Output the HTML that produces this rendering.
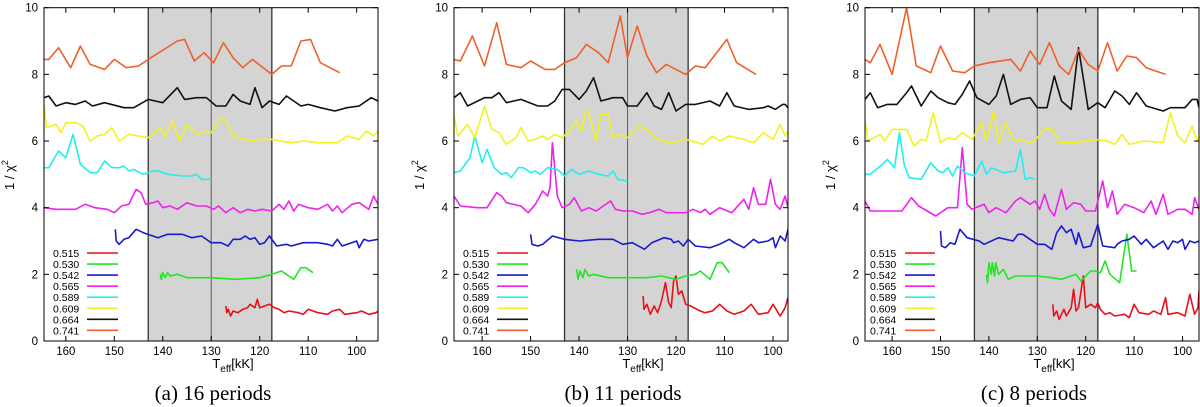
<!DOCTYPE html>
<html><head><meta charset="utf-8"><style>
body{margin:0;background:#fff;}
svg{display:block;font-family:"Liberation Sans",sans-serif;}
</style></head><body>
<svg id="chart" width="1200" height="407" viewBox="0 0 1200 407"></svg>
<script>
const masses = ["0.515","0.530","0.542","0.565","0.589","0.609","0.664","0.741"];
const colors = ["#e8101a","#22e622","#1a1acc","#ee22ee","#22eeee","#f2f222","#111111","#f0602a"];
const xTicks = [160,150,140,130,120,110,100];
const yTicks = [0,2,4,6,8,10];
const shadeRange = [143,117.5];
const midLine = 130;
const captions = ["(a)  16 periods","(b)  11 periods","(c)  8 periods"];

const a515=[[127,1.05],[126.8,0.85],[126.5,0.95],[126,0.75],[125.5,0.9],[124.5,0.85],[123.5,0.95],[122.5,1.0],[122,1.1],[121,1.0],[120.5,1.25],[120,1.0],[119,1.05],[118,1.1],[117,1.0],[116,0.95],[115,0.85],[114,0.9],[112,0.85],[111,0.8],[110,0.95],[108,0.85],[106,0.8],[105,0.9],[103.5,0.95],[102.5,0.8],[100,0.85],[99,0.9],[97.5,0.8],[96,0.85],[95.6,0.9]];
const a530=[[140.5,2.0],[140.3,1.85],[140,2.05],[139.5,1.9],[139,2.05],[138.5,1.95],[137,2.0],[135,1.9],[130,1.9],[125,1.85],[120,1.9],[117.5,2.0],[115.5,2.1],[114,1.95],[113,1.85],[111.5,2.2],[110.5,2.2],[109,2.05]];
const a542=[[149.8,3.35],[149.6,3.0],[149,2.9],[148,3.05],[147,3.1],[145.5,3.35],[144,3.25],[141,3.1],[139,3.2],[136,3.2],[134,3.1],[132,3.15],[130,2.95],[128,2.95],[126.5,2.85],[125.5,3.05],[124,3.05],[123,3.15],[122,3.05],[121,3.1],[120,2.9],[119,2.95],[118,3.15],[116.5,2.85],[114.5,2.9],[113.5,2.85],[111,2.95],[108,2.95],[106,2.9],[105,2.85],[104,3.05],[103,2.85],[101,2.95],[100,3.0],[99.5,2.8],[98.5,3.05],[97.5,3.0],[95.6,3.05]];
const a565=[[164.5,4.0],[162,3.95],[158,3.95],[156,4.1],[154,4.0],[151.5,3.95],[150,3.85],[148.5,4.05],[147,4.1],[145.5,4.55],[144.5,4.45],[143.5,4.1],[142,4.15],[141,4.2],[140,4.0],[138.5,4.05],[137,3.95],[135,4.15],[133,4.05],[131,4.05],[129.5,3.95],[128.5,4.05],[127,3.85],[125.5,4.0],[124,3.85],[122.5,3.95],[121,3.9],[119.5,3.95],[117.5,3.9],[116,4.1],[115,3.95],[114,4.2],[113,3.9],[112,4.1],[110,4.0],[108,3.95],[106,4.1],[105,3.9],[104,4.05],[103,3.85],[101,4.1],[99.5,4.15],[97.5,3.95],[96.5,4.35],[95.6,4.1]];
const a589=[[164.5,5.2],[163.5,5.2],[161.5,5.7],[160,5.5],[158.5,6.2],[157,5.3],[155,5.05],[153.5,5.05],[152,5.4],[150.5,5.2],[149,5.2],[148,5.25],[147,5.1],[146,5.15],[144,5.0],[142,5.1],[141,5.1],[139,5.0],[136,4.95],[134,4.95],[133,5.0],[132,4.85],[130,4.85]];
const a609=[[164.5,7.1],[164,6.4],[162,6.5],[161,6.25],[160,6.55],[158,6.55],[156.5,6.45],[155,6.0],[153.5,6.15],[152,6.2],[150.5,6.4],[149,6.0],[147,6.2],[145,6.15],[143,6.1],[140.5,6.4],[139.5,6.15],[138,6.6],[136.5,6.0],[135,6.5],[133,6.2],[131,6.3],[130,6.25],[128,6.7],[127,6.6],[125.5,6.15],[122,6.0],[120,6.05],[117.5,6.05],[113.5,5.95],[111,6.0],[108,5.95],[104,5.95],[102,6.15],[99.5,6.05],[98,6.3],[96.5,6.15],[95.6,6.3]];
const a664=[[164.5,7.3],[163.5,7.35],[162,7.05],[160,7.15],[158,7.1],[156,7.2],[154.5,7.05],[152,7.15],[148,7.0],[146,7.0],[143,7.25],[140,7.15],[137,7.6],[135.5,7.25],[133,7.3],[131,7.3],[129,7.05],[127,7.05],[125.5,7.4],[124,7.2],[122,7.1],[121,7.6],[119.5,7.0],[118,7.2],[117,7.15],[116,7.1],[114.5,7.35],[113,7.2],[111.5,7.05],[110,7.1],[107.5,7.0],[104.5,6.9],[102,7.0],[99.5,7.05],[97,7.3],[95.6,7.2]];
const a741=[[164.5,8.45],[163.5,8.45],[161.5,8.8],[159,8.2],[157,8.85],[155,8.3],[152,8.15],[150,8.45],[147.5,8.2],[145,8.25],[143,8.45],[137,9.0],[135.5,9.05],[133.5,8.4],[131.5,8.65],[129.5,8.35],[127.5,8.95],[125.5,8.5],[123.5,8.2],[121.5,8.45],[117.5,8.0],[115.5,8.25],[113.5,8.25],[111.5,9.0],[109.5,9.05],[107.5,8.35],[103.5,8.05]];

const b515=[[126.8,1.35],[126.6,0.95],[126,1.1],[125.3,0.8],[124.5,1.05],[123.8,0.85],[123,1.2],[122.2,1.75],[121.5,1.15],[121,1.0],[120.5,1.8],[120,1.95],[119.5,1.4],[118.8,1.5],[118,1.1],[117,1.05],[115,0.9],[114,0.85],[112.5,0.9],[111,1.1],[109.5,0.9],[108,0.8],[106,0.9],[104.5,1.1],[103,0.8],[101,0.85],[100,1.1],[98.5,0.75],[97.5,1.0],[96.9,1.3]];
const b530=[[140.5,2.15],[140.2,1.85],[139.8,2.1],[139.2,1.9],[138.8,2.15],[138,1.95],[137,2.0],[134,1.9],[128,1.9],[126,1.9],[123,1.95],[120,1.85],[118,1.95],[116,2.0],[115,2.1],[113,1.85],[111.5,2.35],[110.5,2.35],[109,2.05]];
const b542=[[150,3.2],[149.7,2.9],[148.5,2.85],[147.5,2.9],[145.5,3.15],[143,3.05],[140,3.0],[136,3.05],[133,3.05],[131,2.9],[129,2.95],[126.5,2.75],[125,2.95],[122.5,3.1],[121,3.05],[120.5,2.95],[119.5,3.0],[118.5,2.85],[117.5,3.05],[116,2.85],[113,2.8],[111,2.9],[109,3.05],[108,2.95],[106,2.8],[104,3.05],[103,2.95],[101,3.0],[100,3.1],[99.5,2.8],[98.5,3.15],[97.5,3.0],[96.9,3.35]];
const b565=[[165.8,4.35],[164.5,4.05],[161,4.0],[159,4.0],[157,4.45],[156,4.35],[155,4.15],[152,4.05],[150.5,3.85],[149,4.1],[147.5,4.5],[146.5,4.35],[146,4.6],[145.5,5.95],[144.5,4.35],[143.5,4.0],[142,4.1],[141,4.3],[139.5,3.9],[138,4.0],[136.5,3.9],[133.5,4.2],[132.5,3.95],[131,3.9],[129,3.9],[127,3.8],[125.5,3.85],[123.5,3.95],[122,3.85],[118,3.85],[116.5,3.95],[115,3.85],[114,3.95],[113,3.8],[111,4.0],[108.5,3.85],[106,4.25],[105,3.95],[104,4.6],[103,4.1],[101.5,4.1],[100.5,4.85],[99.5,4.1],[98.5,3.95],[97.5,4.35],[96.9,4.0]];
const b589=[[165.8,5.05],[164.5,5.1],[162.5,5.5],[161.5,6.15],[160,5.35],[159,5.75],[157.5,5.2],[156,5.0],[155,5.05],[154,4.9],[152.5,5.2],[151.5,5.2],[150,5.05],[149,5.1],[148,5.0],[146.5,5.2],[144.5,5.15],[143,4.95],[141.5,5.15],[140,5.0],[138,5.1],[136,5.0],[134,4.95],[133,5.1],[132,4.85],[130,4.8]];
const b609=[[165.8,6.75],[165,6.15],[163,6.5],[161.5,6.1],[159.5,7.05],[158,6.35],[156.5,6.25],[155,5.9],[153,6.1],[152,6.4],[150.5,6.0],[149,6.05],[147.5,6.15],[146.5,6.05],[145,6.2],[143.5,6.1],[142,6.3],[140.5,6.6],[139.5,6.3],[138.5,6.95],[137.5,6.6],[136.5,6.0],[135.5,6.8],[134,6.8],[133,6.1],[131.5,6.2],[130,6.1],[127.5,6.45],[125.5,6.3],[124,6.05],[121,5.95],[118,6.05],[115.5,5.95],[114.5,5.9],[112.5,6.15],[111,6.0],[109,6.15],[106,6.05],[104,5.95],[102,6.25],[100,6.05],[98.5,6.5],[97.5,6.15],[96.9,6.3]];
const b664=[[165.8,7.3],[164.5,7.45],[163,7.05],[159.5,7.3],[158,7.3],[156.5,7.45],[155,7.15],[152,7.25],[148.5,7.05],[146.5,7.05],[145,7.2],[143.5,7.55],[142,7.55],[140,7.25],[138.5,7.5],[137,7.9],[135.5,7.2],[133,7.3],[131,7.3],[130,7.05],[128,7.05],[126,7.45],[124.5,7.05],[123,6.95],[121.5,7.45],[120,6.9],[118,7.1],[116,7.1],[113,7.2],[111,7.05],[109.5,7.45],[108,7.05],[105,6.95],[102,7.0],[101,7.05],[99.5,6.95],[98,7.1],[97.5,7.1],[96.9,7.0]];
const b741=[[165.8,8.45],[164.5,8.4],[162,9.15],[159.5,8.25],[157,9.55],[155,8.3],[152,8.2],[150,8.4],[147,8.15],[145,8.15],[143,8.35],[140.5,8.5],[138.5,8.9],[136,8.65],[134,8.35],[131.5,9.75],[130,8.5],[128,9.45],[126,8.55],[124,8.05],[122,8.3],[118,8.0],[116,8.25],[114,8.2],[109.5,9.05],[107.5,8.35],[103.5,8.0]];

const c515=[[126.8,1.1],[126.6,0.75],[126,0.9],[125.5,0.65],[124.5,0.95],[124,0.75],[123,1.0],[122.5,1.55],[122,0.9],[121.5,1.0],[120.5,1.95],[120,1.0],[119,1.1],[118,1.0],[117.5,1.15],[117,0.95],[116,0.8],[115,0.85],[114,0.75],[112,0.8],[111,0.7],[110,1.1],[109,0.85],[107,0.8],[106,0.9],[104.5,0.8],[103.5,1.3],[103,0.8],[101,0.85],[99.5,0.75],[98.5,1.4],[97.5,0.8],[96.8,1.0],[96.6,1.5]];
const c530=[[140.5,2.0],[140.3,1.75],[140,2.35],[139.5,2.0],[139.3,2.35],[138.8,1.95],[138.6,2.35],[138,2.0],[137,2.15],[136,1.85],[134.5,1.95],[130,1.95],[127,1.9],[125,1.85],[122,2.0],[121,1.8],[119,2.1],[118,2.1],[117,2.05],[116,2.4],[115,2.0],[113,1.75],[111.5,3.2],[110.5,2.1],[109.5,2.1]];
const c542=[[150,3.3],[149.8,2.85],[149,2.8],[148,2.95],[147,2.9],[146,3.35],[144.5,3.1],[142,3.0],[141,2.9],[138,3.1],[135,3.0],[134,3.2],[133,3.2],[132,3.1],[130,2.9],[128.5,2.9],[127,2.75],[126,3.25],[125,3.45],[124,3.25],[123,3.35],[122,2.9],[121.5,3.25],[120.5,2.8],[119,2.85],[117.5,3.5],[116.5,2.85],[114,2.8],[113.5,2.9],[112.5,3.0],[111,3.05],[110,3.15],[108.5,2.9],[107.5,3.05],[106,2.8],[104,3.0],[103,2.75],[102,3.0],[101,2.95],[100,3.05],[99.5,2.75],[98.5,3.0],[97.5,2.95],[96.6,3.0]];
const c565=[[165.6,4.2],[164.5,3.9],[160,3.9],[158,3.9],[156,4.3],[154.5,4.05],[151,3.75],[148.5,4.0],[146.5,4.0],[145.5,5.8],[144.5,4.1],[143.5,3.95],[141,4.1],[140,3.85],[138.5,4.0],[136.5,3.85],[134.5,4.2],[133.5,4.3],[131.5,4.1],[130.5,4.2],[129.5,3.95],[128.5,4.4],[127.5,3.95],[126.5,3.75],[125,4.55],[124,3.95],[122.5,4.15],[121,4.1],[120,3.9],[118,3.9],[116.5,4.8],[115.5,4.0],[114.5,4.5],[113.5,3.8],[112,4.1],[110,4.0],[108,3.85],[106.5,4.2],[105.5,3.8],[104,4.4],[103,3.8],[101,3.95],[99.5,3.95],[98,3.8],[97.5,4.3],[96.6,3.95]];
const c589=[[165.6,5.0],[164.5,5.0],[162,5.3],[161,5.45],[159.5,5.2],[158.5,6.25],[157.5,5.3],[156.5,4.9],[154,4.85],[152,5.35],[150.5,5.1],[149.5,5.05],[148.5,5.2],[147.5,4.95],[146.5,5.25],[145,5.05],[143,4.95],[141.5,5.4],[140.5,5.0],[139.5,5.2],[137,5.05],[134.5,5.1],[133.5,5.75],[132.5,4.85],[131.5,4.9],[130.5,4.85]];
const c609=[[165.6,6.65],[165,6.0],[162.5,6.2],[161.5,6.0],[160,6.35],[157,6.35],[155.5,5.85],[154,6.05],[153,6.0],[151.5,6.85],[150,5.95],[148.5,6.1],[147,6.05],[145.5,6.25],[143.5,6.05],[141.5,6.55],[140.5,6.0],[139,6.9],[138,5.95],[136.5,6.55],[135,6.05],[131,5.95],[128.5,6.35],[127,6.4],[125.5,5.95],[121.5,5.95],[120,6.0],[118,6.05],[115.5,6.0],[114,5.9],[112.5,6.2],[111,5.9],[108,6.0],[104,5.95],[102.5,6.85],[101,6.15],[99.5,5.95],[98,6.45],[97,6.0],[96.6,6.15]];
const c664=[[165.6,7.25],[164.5,7.45],[163,7.0],[161,7.1],[159,7.1],[157,7.45],[156,7.65],[154,7.05],[152,7.5],[150.5,7.3],[148.5,7.15],[147,7.1],[145.5,7.4],[144,7.8],[142.5,7.3],[140,7.1],[138.5,7.35],[137,8.0],[135.5,7.1],[133.5,7.25],[131.5,7.3],[130,7.0],[128,7.0],[126.5,7.95],[125,7.2],[123,6.95],[121.5,8.8],[119.5,6.95],[117.5,7.15],[116,7.0],[114,7.5],[112.5,7.35],[111,7.1],[109.5,7.45],[107.5,7.05],[104,6.9],[102.5,7.0],[99.5,7.0],[98,7.25],[97,7.25],[96.6,7.0]];
const c741=[[165.6,8.45],[164.5,8.35],[162.5,8.9],[160,8.0],[157,10.0],[155,8.25],[152,8.05],[150,8.85],[147.5,8.1],[145,8.05],[143,8.25],[140,8.35],[135.5,8.45],[133.5,8.1],[131.5,8.7],[129.5,8.3],[127.5,8.95],[125.5,8.25],[123.5,8.0],[121.5,8.75],[119.5,8.3],[117.5,8.1],[115.5,8.95],[113.5,8.1],[111.5,8.55],[109.5,8.5],[107.5,8.2],[103.5,8.0]];

const panelSeries = [
  [a515,a530,a542,a565,a589,a609,a664,a741],
  [b515,b530,b542,b565,b589,b609,b664,b741],
  [c515,c530,c542,c565,c589,c609,c664,c741]
];

const NS="http://www.w3.org/2000/svg";
const svg=document.getElementById('chart');
function mk(tag,attrs,parent){const e=document.createElementNS(NS,tag);for(const k in attrs)e.setAttribute(k,attrs[k]);(parent||svg).appendChild(e);return e;}

const panels=[
  {L:44,R:378,x0:164.5,x1:95.6,legX:53,legLine:[87,118]},
  {L:454,R:788,x0:165.8,x1:96.9,legX:463,legLine:[497,528]},
  {L:865,R:1199,x0:165.6,x1:96.6,legX:870,legLine:[905,935]}
];
const T=7.7,B=341;

panels.forEach((p,pi)=>{
  const g=mk('g',{});
  
  
  const xs=v=>p.L+(p.x0-v)/(p.x0-p.x1)*(p.R-p.L);
  const ys=v=>B-v/10*(B-T);
  const cid='clip'+pi;
  const cp=mk('clipPath',{id:cid},g);
  mk('rect',{x:p.L,y:T,width:p.R-p.L,height:B-T},cp);
  const sh=mk('rect',{x:xs(shadeRange[0]),y:T,width:xs(shadeRange[1])-xs(shadeRange[0]),height:B-T,fill:'#d4d4d4'},g);
  
  
  shadeRange.forEach(v=>{const l=mk('line',{x1:xs(v),x2:xs(v),y1:T,y2:B,stroke:'#333','stroke-width':1.3},g);
    
    });
  const ml=mk('line',{x1:xs(midLine),x2:xs(midLine),y1:T,y2:B,stroke:'#666','stroke-width':1.1},g);
  
  
  const sg=mk('g',{'clip-path':'url(#'+cid+')'},g);
  panelSeries[pi].forEach((s,si)=>{
    const d=s.map((pt,i)=>(i?'L':'M')+xs(pt[0]).toFixed(1)+' '+ys(pt[1]).toFixed(1)).join(' ');
    const path=mk('path',{d:d,fill:'none',stroke:colors[si],'stroke-width':1.6,'stroke-linejoin':'round'},sg);
    
    
  });
  const fr=mk('rect',{x:p.L,y:T,width:p.R-p.L,height:B-T,fill:'none',stroke:'#000','stroke-width':1},g);
  
  
  xTicks.forEach(v=>{const x=xs(v);
    mk('line',{x1:x,x2:x,y1:B,y2:B-5,stroke:'#000'},g);
    mk('line',{x1:x,x2:x,y1:T,y2:T+5,stroke:'#000'},g);
    const t=mk('text',{x:x,y:B+14,'font-size':11.5,'text-anchor':'middle',fill:'#000'},g);t.textContent=v;
    
    });
  yTicks.forEach(v=>{const y=ys(v);
    mk('line',{x1:p.L,x2:p.L+5,y1:y,y2:y,stroke:'#000'},g);
    mk('line',{x1:p.R,x2:p.R-5,y1:y,y2:y,stroke:'#000'},g);
    const t=mk('text',{x:p.L-6,y:y+4,'font-size':11.5,'text-anchor':'end',fill:'#000'},g);t.textContent=v;
    
    });
  const yl=mk('text',{x:0,y:0,'font-size':13,'text-anchor':'middle',transform:'translate('+(p.L-30)+',175) rotate(-90)'},g);
  yl.innerHTML='1 / χ<tspan dy="-6" font-size="9">2</tspan>';
  
  
  const xl=mk('text',{x:(p.L+p.R)/2+22,y:368,'font-size':13,'text-anchor':'middle'},g);
  xl.innerHTML='T<tspan dy="4" font-size="10">eff</tspan><tspan dy="-4">[kK]</tspan>';
  
  
  const cap=mk('text',{x:(p.L+p.R)/2+2,y:400,'font-size':21,'text-anchor':'middle','font-family':'"Liberation Serif",serif'},g);
  cap.textContent=captions[pi];
  
  
  masses.forEach((m,si)=>{const y=253+si*11.05;
    const lt=mk('text',{x:p.legX,y:y+4,'font-size':10.5,fill:'#000'},g);lt.textContent=m;
    
    
    const ll=mk('line',{x1:p.legLine[0],x2:p.legLine[1],y1:y,y2:y,stroke:colors[si],'stroke-width':1.6},g);
    
    });
});
</script>
</body></html>
